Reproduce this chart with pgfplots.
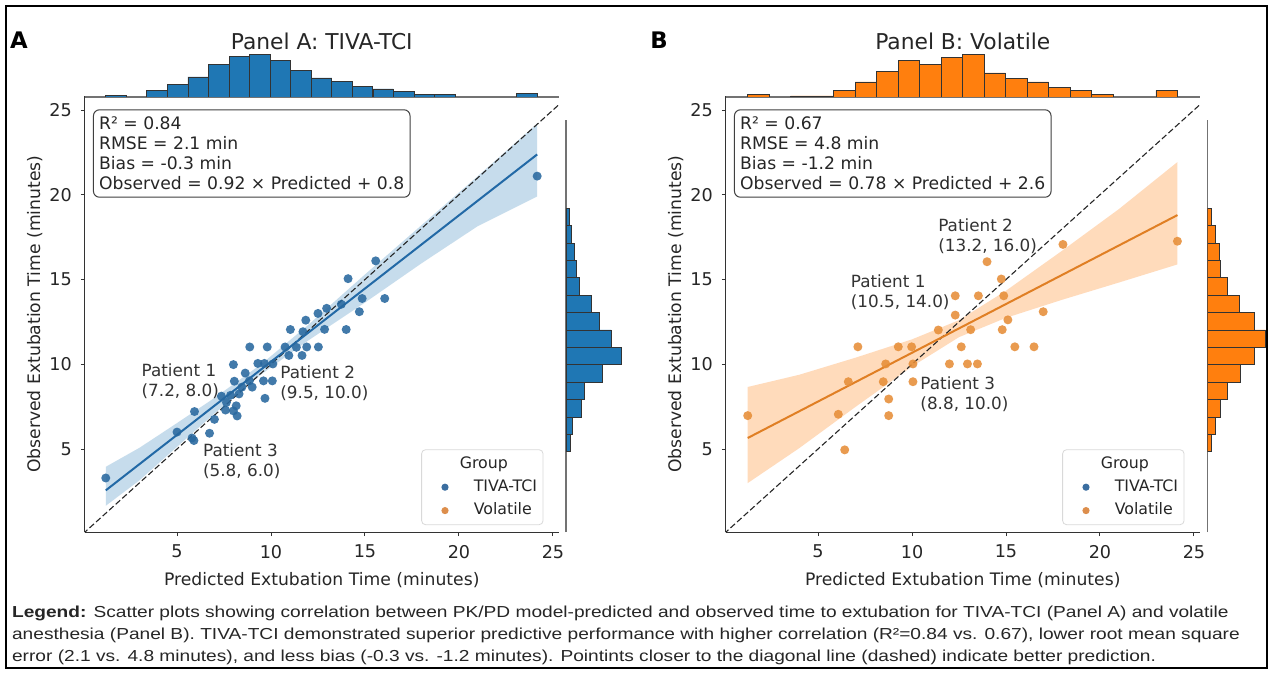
\documentclass[border=0pt]{standalone}
\usepackage{fontspec}
\setmainfont{DejaVu Sans}
\newfontfamily\capfont[FakeStretch=1.203]{Liberation Sans}
\usepackage{pgfplots}
\pgfplotsset{compat=1.18}

\definecolor{tabblue}{HTML}{1F77B4}
\definecolor{taborange}{HTML}{FF7F0E}
\definecolor{ptblue}{HTML}{28689F}
\definecolor{ptorange}{HTML}{E68E38}
\definecolor{lnblue}{HTML}{2269A6}
\definecolor{lnorange}{HTML}{E07F24}
\definecolor{lgblue}{HTML}{3B6EA0}
\definecolor{lgorange}{HTML}{DD8E4C}
\definecolor{spine}{HTML}{333333}
\definecolor{txt}{HTML}{262626}

\pgfplotsset{
  main/.style={
    scale only axis, width=236.85pt, height=217.8pt,
    xmin=0.1, xmax=25.3, ymin=0.1, ymax=25.8,
    axis x line*=bottom, axis y line*=left,
    axis line style={-, spine, line width=0.5pt},
    xtick={5,10,15,20,25}, xticklabels={5,10,15,20,25},
    ytick={5,10,15,20,25}, yticklabels={5,10,15,20,25},
    tick align=outside, major tick length=2pt,
    tick style={spine, line width=0.5pt},
    ticklabel style={font=\fontsize{8.8}{10}\selectfont, text=txt},
    xticklabel style={yshift=-1pt}, yticklabel style={xshift=-1pt},
    legend style={at={(0.968,0.016)}, anchor=south east, draw=black!15,
      rounded corners=2pt, fill=white, font=\fontsize{7.9}{9}\selectfont,
      inner xsep=3pt, inner ysep=3.2pt, row sep=4pt,
      nodes={inner sep=0pt, text height=6pt, text depth=1.7pt, text=txt},
      /tikz/every odd column/.append style={column sep=0.7pt}},
    legend cell align=left,
  },
  margx/.style={scale only axis, width=236.85pt, height=22pt,
    xmin=0.1, xmax=25.3, ymin=0, ymax=44,
    axis x line*=bottom, axis y line=none, xtick=\empty, ytick=\empty,
    axis line style={-, black!55, line width=0.7pt}},
  margy/.style={scale only axis, width=30pt, height=206.03pt,
    xmin=0, xmax=60, ymin=0.1, ymax=24.41,
    axis y line*=left, axis x line=none, xtick=\empty, ytick=\empty,
    axis line style={-, black!55, line width=0.7pt}},
  lgmark/.style={only marks, mark=*, mark size=1.8pt,
    mark options={draw opacity=0, fill=#1},
    legend image code/.code={\path (0pt,0pt) (22pt,0pt);
      \draw[##1] plot coordinates {(8.5pt,0pt)};}},
  pts/.style={forget plot, only marks, mark=*, mark size=2.25pt,
    mark options={draw opacity=0, fill=#1, fill opacity=0.88}},
}
\tikzset{
  stats/.style={draw=black!75, line width=0.5pt, rounded corners=3pt, fill=white,
    anchor=north west, align=left, inner xsep=2.85pt, inner ysep=3.6pt,
    font=\fontsize{8.6}{10}\selectfont, text=txt},
  note/.style={anchor=north west, align=left, inner sep=0pt,
    font=\fontsize{8.4}{10}\selectfont, text=black!80},
}

\begin{document}
\begin{tikzpicture}[x=0.5pt,y=-0.5pt]
\useasboundingbox (0,0) rectangle (1272,674);
\fill[white] (0,0) rectangle (1272,674);

% ---------------- Panel A ----------------
\begin{axis}[main, at={(42.45pt,-266.03pt)}, anchor=south west]
  \addplot[forget plot, fill=tabblue, fill opacity=0.25, draw=none] coordinates {
    (1.21,3.95) (3,5.07) (5,6.53) (7,8.02) (9.5,10.02) (12,12.34) (15,15.30)
    (18,18.20) (21,21.10) (24.16,24.2)
    (24.16,19.9) (21,18.15) (18,15.95) (15,13.64) (12,11.42) (9.5,9.42)
    (7,7.10) (5,5.13) (3,3.15) (1.21,1.65)};
  \addplot[forget plot, black!85, dash pattern=on 3pt off 1.4pt, line width=0.55pt]
    coordinates {(0,0) (26,26)};
  \addplot[pts=ptblue] coordinates {
    (1.21,3.29) (24.16,21.1) (15.57,16.1) (14.1,15.05) (14.85,13.88) (16.05,13.88)
    (14.7,13.1) (13.74,13.54) (12.96,13.3) (12.5,13.0) (11.85,12.6) (14.0,12.05)
    (12.85,12.06) (11.03,12.05) (11.7,11.92) (8.87,11.02) (9.8,11.02) (10.75,11.02)
    (11.35,11.0) (11.9,11.02) (12.52,11.02) (10.95,10.52) (11.65,10.52) (8.0,9.98)
    (9.3,10.05) (9.65,10.05) (10.1,10.02) (8.63,9.48) (8.05,9.0) (8.85,9.02)
    (9.6,9.02) (10.07,9.02) (8.45,8.65) (9.0,8.65) (7.36,8.12) (7.85,8.17)
    (8.3,8.25) (9.68,7.99) (7.63,7.75) (8.15,7.55) (8.0,7.25) (7.58,7.3)
    (8.2,6.95) (6.99,6.75) (5.93,7.21) (5.0,6.0) (5.8,5.65) (5.9,5.5) (6.73,5.93)};
  \addplot[forget plot, lnblue, line width=1pt] coordinates {(1.21,2.56) (24.16,22.38)};
  \node[note] at (axis cs:3.1,10.07) {Patient 1\\(7.2, 8.0)};
  \node[note] at (axis cs:10.48,9.96) {Patient 2\\(9.5, 10.0)};
  \node[note] at (axis cs:6.37,5.35) {Patient 3\\(5.8, 6.0)};
  \node[stats] at (rel axis cs:0.017,0.9705)
    {R² = 0.84\\RMSE = 2.1 min\\Bias = -0.3 min\\Observed = 0.92 × Predicted + 0.8};
  \addlegendimage{empty legend}\addlegendentry{\hspace*{-7pt}Group}
  \addlegendimage{lgmark=lgblue}\addlegendentry{TIVA-TCI}
  \addlegendimage{lgmark=lgorange}\addlegendentry{Volatile}
\end{axis}

\begin{axis}[margx, at={(42.45pt,-48.5pt)}, anchor=south west]
  \addplot[ybar, bar width=1.093, bar shift=0pt, fill=tabblue, draw=black!80, line width=0.4pt]
    coordinates {(1.757,1.7) (3.942,6.7) (5.036,12.3) (6.128,20) (7.222,32.3)
    (8.314,40.7) (9.408,42.7) (10.50,36.7) (11.59,26.7) (12.69,19) (13.78,15.7)
    (14.87,10.7) (15.97,8) (17.06,5.3) (18.15,2.3) (19.25,2.3) (23.62,3.3)};
\end{axis}

\begin{axis}[margy, at={(283pt,-266.03pt)}, anchor=south west]
  \addplot[xbar, bar width=1.026, bar shift=0pt, fill=tabblue, draw=black!80, line width=0.4pt]
    coordinates {(4,5.353) (6.7,6.379) (15,7.405) (18.3,8.431) (36.7,9.457)
    (55.7,10.483) (45,11.509) (33.3,12.535) (25,13.561) (13.3,14.587)
    (10.7,15.613) (8.3,16.639) (5.7,17.665) (3.3,18.691)};
\end{axis}

% ---------------- Panel B ----------------
\begin{axis}[main, at={(362.95pt,-266.03pt)}, anchor=south west]
  \addplot[forget plot, fill=taborange, fill opacity=0.28, draw=none] coordinates {
    (1.26,8.66) (4,9.38) (7,10.39) (10,11.47) (12.5,12.60) (15,14.34) (18,16.71)
    (21,19.15) (24.12,21.93)
    (24.12,15.89) (21,14.82) (18,13.81) (15,12.74) (12.5,11.60) (10,9.87)
    (7,7.49) (4,5.05) (1.26,2.99)};
  \addplot[forget plot, black!85, dash pattern=on 3pt off 1.4pt, line width=0.55pt]
    coordinates {(0,0) (26,26)};
  \addplot[pts=ptorange] coordinates {
    (1.26,6.97) (6.08,7.05) (6.42,4.95) (6.61,8.97) (7.12,11.03) (8.47,8.97)
    (8.6,10.02) (8.76,7.95) (8.76,6.97) (9.27,11.03) (9.98,11.03) (10.05,10.02)
    (10.05,8.97) (11.4,12.02) (11.99,10.02) (12.3,14.04) (12.3,12.9) (12.62,11.03)
    (12.95,10.02) (13.48,10.02) (13.12,12.04) (13.53,14.04) (13.99,16.05)
    (14.75,15.03) (14.8,12.04) (14.88,14.04) (15.1,12.62) (15.47,11.03)
    (16.49,11.03) (16.98,13.1) (18.03,17.07) (24.12,17.26)};
  \addplot[forget plot, lnorange, line width=1pt] coordinates {(1.26,5.65) (24.12,18.80)};
  \node[note] at (axis cs:11.38,18.61) {Patient 2\\(13.2, 16.0)};
  \node[note] at (axis cs:6.73,15.32) {Patient 1\\(10.5, 14.0)};
  \node[note] at (axis cs:10.43,9.27) {Patient 3\\(8.8, 10.0)};
  \node[stats] at (rel axis cs:0.017,0.9705)
    {R² = 0.67\\RMSE = 4.8 min\\Bias = -1.2 min\\Observed = 0.78 × Predicted + 2.6};
  \addlegendimage{empty legend}\addlegendentry{\hspace*{-7pt}Group}
  \addlegendimage{lgmark=lgblue}\addlegendentry{TIVA-TCI}
  \addlegendimage{lgmark=lgorange}\addlegendentry{Volatile}
\end{axis}

\begin{axis}[margx, at={(362.95pt,-48.5pt)}, anchor=south west]
  \addplot[ybar, bar width=1.143, bar shift=0pt, fill=taborange, draw=black!80, line width=0.4pt]
    coordinates {(1.832,2.7) (4.118,1) (5.261,1) (6.404,6.7) (7.547,15) (8.690,25.7)
    (9.833,36.7) (10.98,32.3) (12.12,39.3) (13.26,42.3) (14.40,24) (15.55,18.3)
    (16.69,15) (17.83,9.3) (18.98,6.7) (20.12,2.7) (23.55,6.7)};
\end{axis}

\begin{axis}[margy, at={(603.65pt,-266.03pt)}, anchor=south west]
  \addplot[xbar, bar width=1.026, bar shift=0pt, fill=taborange, draw=black!80, line width=0.4pt]
    coordinates {(4.3,5.353) (7.7,6.379) (12.7,7.405) (20,8.431) (32.7,9.457)
    (46.7,10.483) (58.3,11.509) (46.7,12.535) (32,13.561) (20,14.587)
    (12.7,15.613) (12,16.639) (7.7,17.665) (4.3,18.691)};
\end{axis}

% ---------------- titles and labels ----------------
\node[anchor=base, font=\bfseries\fontsize{11.4}{12}\selectfont] at (19,48.5) {A};
\node[anchor=base, font=\bfseries\fontsize{11.4}{12}\selectfont] at (659,48.5) {B};
\node[anchor=base, font=\fontsize{10.9}{12}\selectfont, text=txt] at (321.75,50) {Panel A: TIVA-TCI};
\node[anchor=base, font=\fontsize{10.9}{12}\selectfont, text=txt] at (962.75,50) {Panel B: Volatile};
\node[anchor=base, font=\fontsize{8.6}{10}\selectfont, text=txt] at (321.75,585.5)
  {Predicted Extubation Time (minutes)};
\node[anchor=base, font=\fontsize{8.6}{10}\selectfont, text=txt] at (962.75,585.5)
  {Predicted Extubation Time (minutes)};
\node[anchor=base, rotate=90, font=\fontsize{8.6}{10}\selectfont, text=txt] at (40,314.2)
  {Observed Extubation Time (minutes)};
\node[anchor=base, rotate=90, font=\fontsize{8.6}{10}\selectfont, text=txt] at (681,314.2)
  {Observed Extubation Time (minutes)};

\node[anchor=north west, align=left, inner sep=0pt, text=black!85,
  font=\capfont\fontsize{7.95}{10.85}\selectfont] at (11.7,606) {%
  \textbf{Legend:} Scatter plots showing correlation between PK/PD model-predicted and observed time to extubation for TIVA-TCI (Panel A) and volatile\\
  anesthesia (Panel B). TIVA-TCI demonstrated superior predictive performance with higher correlation (R²=0.84 vs. 0.67), lower root mean square\\
  error (2.1 vs. 4.8 minutes), and less bias (-0.3 vs. -1.2 minutes). Pointints closer to the diagonal line (dashed) indicate better prediction.};

\draw[line width=1pt] (5.5,6.5) rectangle (1266.5,667.5);
\end{tikzpicture}
\end{document}
